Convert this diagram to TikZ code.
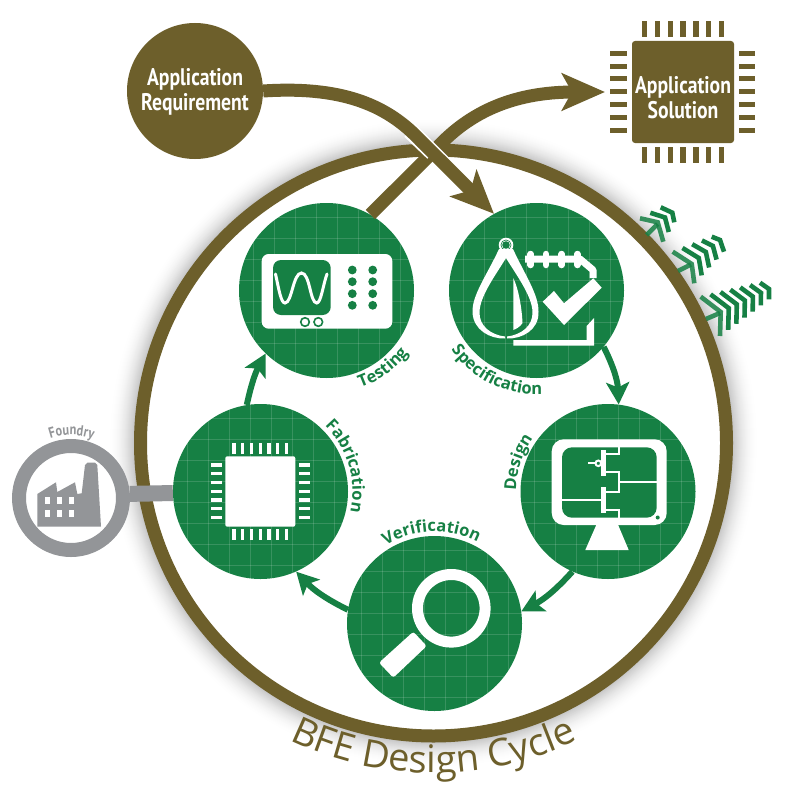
\documentclass[tikz,border=0pt]{standalone}
\usepackage{fontspec}
\usetikzlibrary{arrows.meta,decorations.text,shapes.geometric,calc}
\setmainfont{Open Sans}
\newfontfamily\headfont[FakeStretch=0.82]{PT Sans}
\definecolor{brownc}{RGB}{109,95,43}
\definecolor{greenc}{RGB}{22,128,68}
\definecolor{grayc}{RGB}{147,149,152}
\tikzset{
  x=1pt,y=1pt,
  gridline/.style={draw=white,draw opacity=0.15,line width=0.7pt},
  stagecircle/.style={circle,fill=greenc,inner sep=0pt,minimum size=175pt,
    path picture={
      \foreach \o in {-73.5,-52.5,-31.5,-10.5,10.5,31.5,52.5,73.5}{
        \draw[gridline] ([xshift=\o pt]path picture bounding box.north) -- ([xshift=\o pt]path picture bounding box.south);
        \draw[gridline] ([yshift=\o pt]path picture bounding box.west) -- ([yshift=\o pt]path picture bounding box.east);
      }}},
  flow/.style={draw=greenc,line width=6pt,-{Stealth[length=22pt,width=23pt,inset=5pt]}},
  brownflow/.style={draw=brownc,line width=13pt,-{Stealth[length=43pt,width=37pt,inset=10pt]}},
  headtext/.style={text=white,font=\headfont\bfseries\fontsize{24}{25}\selectfont,align=center,inner sep=0pt},
  chevron/.style={draw=greenc,line width=4.6pt,miter limit=10},
  iconline/.style={draw=white,line width=2pt},
}
\newcommand{\arclabel}[6]{% node, start, end, radius, font, text
  \path[decorate,decoration={text along path,text align={center},text={|#5|#6}}]
    ([shift={(#2:#4pt)}]#1.center) arc (#2:#3:#4pt);}
\begin{document}
\begin{tikzpicture}
\useasboundingbox (0,0) rectangle (800,-800);
\fill[white] (0,0) rectangle (800,-800);
% soft shadow
\foreach \r in {325,324,...,298}{
  \pgfmathsetmacro{\k}{24*((325-\r)/27)^2}
  \draw[black!\k!white,line width=1.6pt] (433.5,-443) circle (\r pt);
}
% main nodes
\node[circle,draw=brownc,fill=white,line width=13pt,inner sep=0pt,minimum size=586pt] (cycle) at (433.5,-443) {};
\node[circle,fill=brownc,inner sep=0pt,minimum size=136pt] (req) at (195,-91) {};
\node[headtext] (reqtext) at (195,-92) {Application\\Requirement};
\node[rectangle,rounded corners=3pt,fill=brownc,inner sep=0pt,minimum size=102pt] (sol) at (683,-92) {};
\node[headtext] (soltext) at (683,-97.5) {Application\\Solution};
\node[stagecircle] (testing) at (326.5,-290.5) {};
\node[stagecircle] (spec) at (536.5,-290.5) {};
\node[stagecircle] (design) at (608,-491.5) {};
\node[stagecircle] (verif) at (434.5,-623.5) {};
\node[stagecircle] (fab) at (260.5,-491.5) {};
\node[circle,draw=grayc,line width=14pt,fill=white,inner sep=0pt,minimum size=104pt] (foundry) at (71,-498) {};
\coordinate (upbend) at (435,-150);
\coordinate (solin) at (605,-92);
\coordinate (downbend) at (418,-138);
% chip pins
\foreach \x in {644.7,657.5,670.2,683,695.8,708.5,721.3}{
  \fill[brownc] (\x-2.7,-21) rectangle (\x+2.7,-37);
  \fill[brownc] (\x-2.7,-147) rectangle (\x+2.7,-163);
}
\foreach \y in {53.3,66.1,78.9,91.7,104.5,117.3,130}{
  \fill[brownc] (610,-\y+2.5) rectangle (627,-\y-2.5);
  \fill[brownc] (739,-\y+2.5) rectangle (755,-\y-2.5);
}
% connectors
\draw[draw=grayc,line width=16pt] (foundry.4) -- (fab.181.5);
\draw[flow] (spec.-40) to[bend left=12] (design.83);
\draw[flow] (design.246) to[bend left=10] (verif.8);
\draw[flow] (verif.171) to[bend left=10] (fab.294);
\draw[flow] (fab.99) to[bend left=8] (testing.226);
\draw[brownflow] (testing.60) -- (upbend) .. controls (475,-105) and (525,-92) .. (solin);
\draw[white,line width=2pt] (414,-124) -- (450,-160);
\draw[white,line width=2pt] (405,-136) -- (428,-158);
\draw[brownflow] (req.east) .. controls (340,-86) and (385,-104) .. (downbend) -- (spec.119);
% Testing icon
\fill[white,rounded corners=7pt] (261.7,-254) rectangle (392.3,-328.7);
\fill[greenc,rounded corners=8pt] (273,-260) rectangle (330.7,-315);
\draw[white,line width=3pt,line cap=round] (275.5,-274) .. controls (279,-290) and (281,-303) .. (285,-303) .. controls (292,-303) and (293,-273) .. (301.5,-273) .. controls (310,-273) and (310,-303) .. (316.7,-303) .. controls (321,-303) and (323,-285) .. (327,-274);
\foreach \x in {352.3,372.7}\foreach \y in {270,281.7,293.7,305.3}{\fill[greenc] (\x,-\y) circle (4.4pt);}
\foreach \x in {305,318.3}{\draw[greenc,fill=white,line width=1.6pt] (\x,-322) circle (4.3pt);}
% Specification icon
\fill[white] (506,-245) circle (7.3pt);
\fill[greenc] (506,-245) circle (5.4pt);
\fill[white] (506,-245) circle (4.6pt);
\fill[greenc] (506,-245) circle (3.8pt);
\fill[white] (499,-249) .. controls (487,-275) and (472,-295) .. (472.5,-312) .. controls (473,-330) and (490,-339) .. (505,-338.5) -- (505,-336.5) .. controls (491,-335) and (479,-326) .. (479.5,-312) .. controls (480,-296) and (495,-276) .. (506,-258) .. controls (517,-276) and (532,-296) .. (532.5,-312) .. controls (533,-326) and (521,-335) .. (507,-336.5) -- (507,-338.5) .. controls (522,-339) and (539,-330) .. (538.5,-312) .. controls (539,-295) and (525,-275) .. (513,-249) -- cycle;
\fill[white] (513.3,-278) .. controls (519,-290) and (522,-310) .. (522.5,-323) .. controls (520,-327) and (516,-329) .. (513.3,-330) -- cycle;
\foreach \x in {530.7,546,561.7,577.3}{\draw[white,line width=6.5pt,line cap=round] (\x,-254) -- (\x,-265);}
\draw[white,line width=7pt,line join=round] (525,-259) -- (580,-259) -- (593,-270) -- (593,-278);
\fill[white] (542.7,-301.7) -- (554,-291) -- (564,-303.3) -- (593.3,-278.3) -- (601.7,-287.7) -- (564,-325) -- cycle;
\fill[white] (513.3,-340) -- (586.7,-340) -- (586.7,-326) -- (594,-318) -- (594,-345.7) -- (513.3,-345.7) -- cycle;
% Design icon
\fill[white,rounded corners=12pt] (551.7,-439.3) rectangle (666.7,-525);
\fill[greenc,rounded corners=10pt] (562,-447.3) rectangle (656.7,-517.7);
\fill[white] (596.7,-524) -- (617.7,-524) -- (628.7,-550) -- (585.3,-550) -- cycle;
\fill[greenc] (657.7,-517.5) circle (2pt);
\fill[white] (601,-450) rectangle (606,-476);
\fill[white] (601,-487.3) rectangle (606,-513.3);
\draw[iconline] (606,-454.3) -- (619.3,-454.3) -- (619.3,-447);
\draw[iconline] (606,-472.3) -- (619.3,-472.3) -- (619.3,-491.7) -- (606,-491.7);
\draw[iconline] (606,-510) -- (619.3,-510) -- (619.3,-518);
\draw[iconline] (619.3,-481.7) -- (656.7,-481.7);
\draw[iconline] (562,-500.3) -- (601,-500.3);
\draw[iconline] (588.3,-463.3) -- (595.3,-463.3);
\draw[iconline] (598.3,-463.3) circle (2.8pt);
\draw[iconline] (601,-463.3) -- (602,-463.3);
% Verification icon
\draw[white,line width=11pt] (451.3,-608.3) circle (33.8pt);
\fill[white,rounded corners=2.5pt] (413.3,-631.7) -- (426.7,-646) -- (393.3,-677.7) -- (379,-662.7) -- cycle;
% Fabrication icon
\fill[white,rounded corners=2pt] (225.3,-456.3) rectangle (295.3,-526.7);
\foreach \x in {234,242.7,251.7,260.3,269,277.7,286.7}{
  \fill[white] (\x-1.7,-442.7) rectangle (\x+1.7,-454);
  \fill[white] (\x-1.7,-529.3) rectangle (\x+1.7,-540.3);
}
\foreach \y in {465,473.7,482.7,491.3,500,508.7,517.3}{
  \fill[white] (210.7,-\y+1.7) rectangle (222,-\y-1.7);
  \fill[white] (298.7,-\y+1.7) rectangle (310,-\y-1.7);
}
% Factory
\fill[grayc] (37.3,-526.7) -- (37.3,-494) -- (56,-482.3) -- (57.3,-492) -- (75,-482.3) -- (77.3,-494) -- (81.7,-493.3) -- (85,-465) -- (87.3,-462.7) -- (95,-462.7) -- (97.3,-465) -- (101,-526.7) -- cycle;
\foreach \x in {45,57,69.3}\foreach \y in {497.3,509.7}{\fill[white] (\x,-\y) rectangle (\x+4.5,-\y-7);}
% Chevrons group 1
\foreach \i/\op in {0/0.85,1/1,2/1}{
  \pgfmathsetmacro{\t}{\i/2}
  \draw[chevron,draw opacity=\op] ($(640,-218.3)!\t!(660.7,-207.3)$) -- ($(657.7,-222.3)!\t!(672.3,-212.7)$) -- ($(663.3,-241.7)!\t!(674.3,-222.3)$);
}
\draw[chevron,draw opacity=0.85] (646.7,-235) -- (657.7,-224);
% Chevrons group 2
\foreach \i/\op in {0/0.85,1/1,2/1,3/1,4/1}{
  \pgfmathsetmacro{\t}{\i/4}
  \draw[chevron,draw opacity=\op] ($(672.7,-251.7)!\t!(711.7,-236.7)$) -- ($(691.7,-264)!\t!(720,-240)$) -- ($(694.3,-283.3)!\t!(724,-251.7)$);
}
\draw[chevron,draw opacity=0.85] (678,-271) -- (691,-264.5);
% Chevrons group 3
\foreach \i/\op in {0/0.85,1/1,2/1,3/1,4/1,5/1,6/1}{
  \pgfmathsetmacro{\t}{\i/6}
  \draw[chevron,draw opacity=\op] ($(700.7,-296.7)!\t!(760,-282.7)$) -- ($(720.7,-312)!\t!(769,-289)$) -- ($(720,-336)!\t!(769,-299.3)$);
}
\draw[chevron,draw opacity=0.85] (706,-319) -- (720,-313);
% Curved labels
\arclabel{testing}{-72}{-36}{103}{\color{greenc}\bfseries\fontsize{16.5}{18}\selectfont}{Testing}
\arclabel{spec}{213}{275}{104}{\color{greenc}\bfseries\fontsize{16.5}{18}\selectfont}{Specification}
\arclabel{design}{181}{143}{92}{\color{greenc}\bfseries\fontsize{16.5}{18}\selectfont}{Design}
\arclabel{verif}{122}{62}{92}{\color{greenc}\bfseries\fontsize{16.5}{18}\selectfont}{Verification}
\arclabel{fab}{46}{-13}{92}{\color{greenc}\bfseries\fontsize{16.5}{18}\selectfont}{Fabrication}
\arclabel{foundry}{110}{69}{63}{\color{grayc}\headfont\bfseries\fontsize{15}{16}\selectfont}{Foundry}
\arclabel{cycle}{244}{296}{330}{\color{brownc}\fontsize{38}{42}\selectfont}{BFE Design Cycle}
\end{tikzpicture}
\end{document}
